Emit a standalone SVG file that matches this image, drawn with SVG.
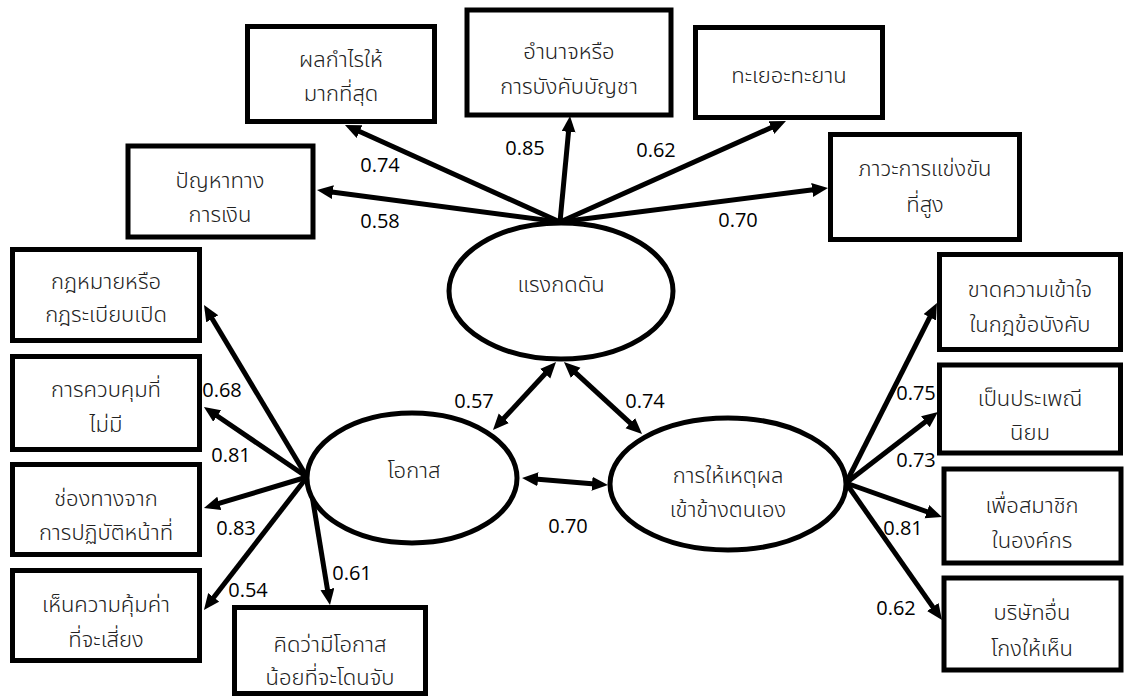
<svg xmlns="http://www.w3.org/2000/svg" width="1127" height="700" viewBox="0 0 1127 700">
<style>
.box{fill:#fff;stroke:#000;stroke-width:5}
.ell{fill:#fff;stroke:#000;stroke-width:5}
.t{font-family:"Noto Sans Thai","Noto Sans","Open Sans",sans-serif;font-size:22px;font-weight:300;fill:#222;text-anchor:middle}
.n{font-family:"Open Sans","Noto Sans",sans-serif;font-size:20px;fill:#000;text-anchor:middle}
.c line{stroke:#000;stroke-width:5;marker-end:url(#ah)}
.c line.d{marker-start:url(#ahs)}
</style>
<defs>
<marker id="ah" markerUnits="userSpaceOnUse" markerWidth="17" markerHeight="15" refX="3" refY="7" orient="auto"><path d="M0,0 L16,7 L0,14 z" fill="#000"/></marker>
<marker id="ahs" markerUnits="userSpaceOnUse" markerWidth="17" markerHeight="15" refX="3" refY="7" orient="auto-start-reverse"><path d="M0,0 L16,7 L0,14 z" fill="#000"/></marker>
</defs>
<rect width="1127" height="700" fill="#fff"/>
<g id="connectors" class="c">
<line x1="560" y1="222" x2="329.9" y2="191.7"/>
<line x1="560" y1="222" x2="356.8" y2="130.3"/>
<line x1="560" y1="222" x2="568.8" y2="128.9"/>
<line x1="560" y1="222" x2="774.1" y2="126.3"/>
<line x1="560" y1="222" x2="815.1" y2="189.6"/>
<line x1="307" y1="477" x2="210.7" y2="316.2"/>
<line x1="307" y1="477" x2="214.7" y2="414.3"/>
<line x1="307" y1="477" x2="216.4" y2="504.2"/>
<line x1="307" y1="477" x2="211.9" y2="599.7"/>
<line x1="309" y1="477" x2="327.9" y2="592.2"/>
<line x1="846" y1="483" x2="931.1" y2="314.6"/>
<line x1="846" y1="483" x2="927.7" y2="419.9"/>
<line x1="846" y1="483" x2="929.7" y2="512.7"/>
<line x1="846" y1="483" x2="934.5" y2="609.4"/>
<line class="d" x1="547.2" y1="371.5" x2="501.8" y2="420.5"/>
<line class="d" x1="573.5" y1="370.8" x2="632.5" y2="425.2"/>
<line class="d" x1="535" y1="479" x2="595" y2="484"/>
</g>
<g id="pressure"><ellipse class="ell" cx="561" cy="291" rx="112" ry="68"/><text class="t" x="561" y="292">แรงกดดัน</text></g>
<g id="opportunity"><ellipse class="ell" cx="412" cy="478" rx="105" ry="65"/><text class="t" x="414" y="478">โอกาส</text></g>
<g id="rationalization"><ellipse class="ell" cx="728" cy="484" rx="118" ry="66"/><text class="t" x="728" y="483">การให้เหตุผล</text><text class="t" x="728" y="517">เข้าข้างตนเอง</text></g>
<g id="p1"><rect class="box" x="128" y="146" width="185" height="91"/><text class="t" x="220" y="188">ปัญหาทาง</text><text class="t" x="220" y="222">การเงิน</text></g>
<g id="p2"><rect class="box" x="247.5" y="26.5" width="187" height="95"/><text class="t" x="341" y="67">ผลกำไรให้</text><text class="t" x="341" y="101">มากที่สุด</text></g>
<g id="p3"><rect class="box" x="467" y="10" width="204" height="105"/><text class="t" x="569" y="59">อำนาจหรือ</text><text class="t" x="569" y="94">การบังคับบัญชา</text></g>
<g id="p4"><rect class="box" x="695.5" y="27.5" width="187" height="90"/><text class="t" x="789" y="83">ทะเยอะทะยาน</text></g>
<g id="p5"><rect class="box" x="830.5" y="134.5" width="189" height="105"/><text class="t" x="925" y="176">ภาวะการแข่งขัน</text><text class="t" x="925" y="212">ที่สูง</text></g>
<g id="r1"><rect class="box" x="939.5" y="254.5" width="181" height="95"/><text class="t" x="1030" y="297">ขาดความเข้าใจ</text><text class="t" x="1030" y="332">ในกฎข้อบังคับ</text></g>
<g id="r2"><rect class="box" x="939.5" y="365" width="181" height="88"/><text class="t" x="1030" y="406">เป็นประเพณี</text><text class="t" x="1030" y="440">นิยม</text></g>
<g id="r3"><rect class="box" x="944" y="469" width="177" height="94"/><text class="t" x="1032" y="513">เพื่อสมาชิก</text><text class="t" x="1032" y="548">ในองค์กร</text></g>
<g id="r4"><rect class="box" x="944" y="578" width="177" height="92"/><text class="t" x="1032" y="620">บริษัทอื่น</text><text class="t" x="1032" y="656">โกงให้เห็น</text></g>
<g id="o1"><rect class="box" x="12.5" y="249.5" width="187" height="91"/><text class="t" x="106" y="289">กฎหมายหรือ</text><text class="t" x="106" y="322">กฎระเบียบเปิด</text></g>
<g id="o2"><rect class="box" x="12.5" y="356.5" width="187" height="93"/><text class="t" x="106" y="397">การควบคุมที่</text><text class="t" x="106" y="432">ไม่มี</text></g>
<g id="o3"><rect class="box" x="12.5" y="464.5" width="187" height="90"/><text class="t" x="106" y="506">ช่องทางจาก</text><text class="t" x="106" y="540">การปฏิบัติหน้าที่</text></g>
<g id="o4"><rect class="box" x="12.5" y="570.5" width="187" height="90"/><text class="t" x="106" y="612">เห็นความคุ้มค่า</text><text class="t" x="106" y="647">ที่จะเสี่ยง</text></g>
<g id="o5"><rect class="box" x="234.5" y="607.5" width="191" height="86"/><text class="t" x="330" y="652">คิดว่ามีโอกาส</text><text class="t" x="330" y="685">น้อยที่จะโดนจับ</text></g>
<g id="labels">
<text class="n" x="380" y="172">0.74</text>
<text class="n" x="380" y="228">0.58</text>
<text class="n" x="525" y="155">0.85</text>
<text class="n" x="656" y="157">0.62</text>
<text class="n" x="738" y="227">0.70</text>
<text class="n" x="222" y="397">0.68</text>
<text class="n" x="231" y="462">0.81</text>
<text class="n" x="236" y="535">0.83</text>
<text class="n" x="248" y="597">0.54</text>
<text class="n" x="352" y="580">0.61</text>
<text class="n" x="474" y="408">0.57</text>
<text class="n" x="645" y="408">0.74</text>
<text class="n" x="568" y="533">0.70</text>
<text class="n" x="916" y="400">0.75</text>
<text class="n" x="916" y="467">0.73</text>
<text class="n" x="903" y="535">0.81</text>
<text class="n" x="896" y="615">0.62</text>
</g>
</svg>
